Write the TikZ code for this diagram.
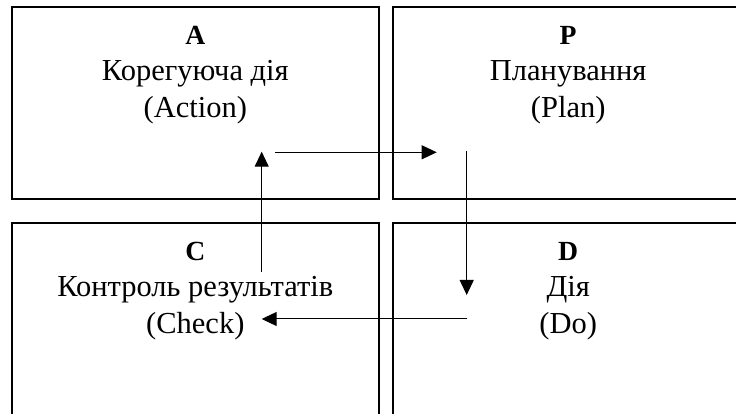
\documentclass[tikz,border=0pt]{standalone}
\usepackage{fontspec}
\setmainfont{Liberation Serif}
\usetikzlibrary{positioning,arrows.meta}

\begin{document}
\begin{tikzpicture}[x=1pt,y=1pt,
    stage/.style={draw, line width=1.8pt, minimum height=192pt, inner sep=0pt},
    caption/.style={align=center, inner sep=0pt, font=\fontsize{30.5}{36.5}\selectfont},
    flow/.style={line width=1pt, -{Triangle[length=15pt,width=14pt]}}]
            \useasboundingbox (0,0) rectangle (736,414);
            \clip (0,0) rectangle (736,414);
            \node[stage, minimum width=367.3pt] (act) at (195.3, 310.7) {};
            \node[stage, minimum width=349.7pt] (plan) at (568.2, 310.7) {};
            \node[stage, minimum width=367.3pt] (check) at (195.3, 94.7) {};
            \node[stage, minimum width=349.7pt] (do) at (568.2, 94.7) {};
            \node[caption, below=19.5pt of act.north] (acttext) {{\fontsize{27.7}{36.5}\selectfont\bfseries A}\\Корегуюча дія\\(Action)};
            \node[caption, below=19.5pt of plan.north] (plantext) {{\fontsize{27.7}{36.5}\selectfont\bfseries P}\\Планування\\(Plan)};
            \node[caption, below=19.5pt of check.north] (checktext) {{\fontsize{27.7}{36.5}\selectfont\bfseries C}\\Контроль результатів\\(Check)};
            \node[caption, below=19.5pt of do.north] (dotext) {{\fontsize{27.7}{36.5}\selectfont\bfseries D}\\Дія\\(Do)};
            % arrow ends
            \coordinate (actout) at (275, 261.7);
            \coordinate (planin) at (436.7, 261.7);
            \coordinate (planout) at (466.7, 263);
            \coordinate (doin) at (466.7, 119);
            \coordinate (doout) at (467.3, 95);
            \coordinate (checkin) at (261.7, 95);
            \coordinate (checkout) at (261.7, 142.3);
            \coordinate (actin) at (261.7, 262.3);
            \draw[flow] (actout) -- (planin);
            \draw[flow] (planout) -- (doin);
            \draw[flow] (doout) -- (checkin);
            \draw[flow] (checkout) -- (actin);
          \end{tikzpicture}
\end{document}
